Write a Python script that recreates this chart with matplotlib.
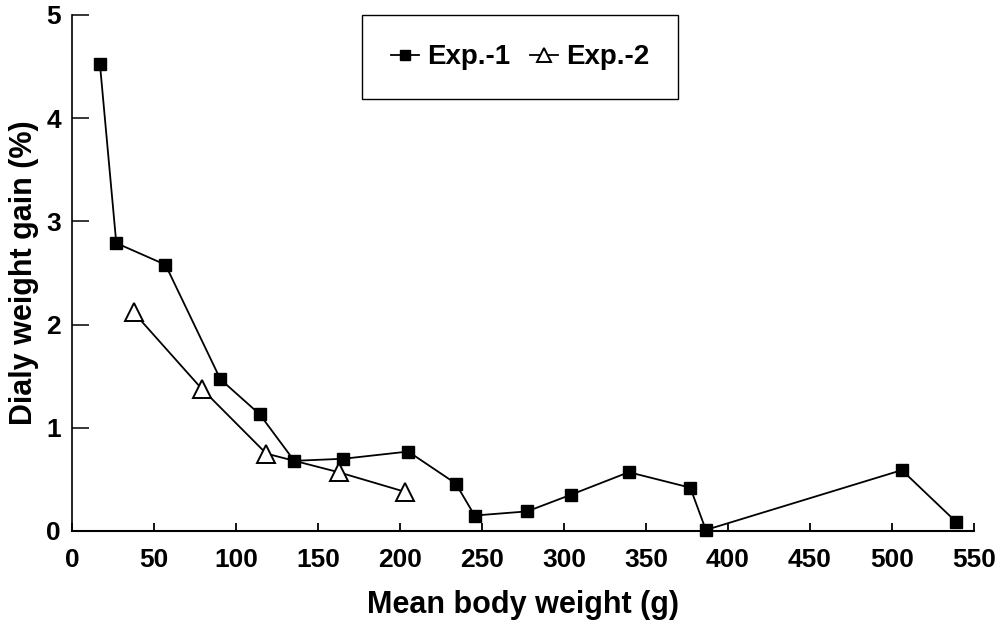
import numpy as np
import matplotlib
matplotlib.use("Agg")
import matplotlib.pyplot as plt

plt.rcParams['font.family'] = ['Liberation Sans', 'DejaVu Sans']

# Exp.-1 (filled squares)
exp1_x = [17, 27, 57, 90.5, 114.5, 135.5, 165.5, 205, 234, 245.5, 277.5, 304, 339.5, 377, 386.5, 506, 539]
exp1_y = [4.53, 2.79, 2.58, 1.47, 1.13, 0.68, 0.70, 0.77, 0.46, 0.15, 0.19, 0.35, 0.57, 0.42, 0.01, 0.59, 0.09]

# Exp.-2 (open triangles)
exp2_x = [37.5, 79, 118.5, 162.5, 203]
exp2_y = [2.12, 1.38, 0.75, 0.57, 0.38]

xticks = np.arange(0, 551, 50)
yticks = np.arange(0, 6, 1)

fig = plt.figure(figsize=(10.03, 6.31), dpi=100)
ax = fig.add_axes([72/1003, 1-531/631, 902/1003, 516/631])

ax.plot(exp1_x, exp1_y, color='black', lw=1.3, marker='s', ms=9,
        mfc='black', mec='black', label='Exp.-1', clip_on=False, zorder=3)
ax.plot(exp2_x, exp2_y, color='black', lw=1.3, marker='^', ms=13,
        mfc='white', mec='black', mew=1.4, label='Exp.-2', clip_on=False, zorder=4)

ax.set_xlim(0, 550)
ax.set_ylim(0, 5)
ax.set_xticks(xticks)
ax.set_yticks(yticks)
ax.spines['top'].set_visible(False)
ax.spines['right'].set_visible(False)
ax.spines['left'].set_linewidth(1.2)
ax.spines['bottom'].set_linewidth(1.5)
ax.tick_params(axis='y', direction='in', length=12, width=1.1, pad=8, labelsize=19)
ax.tick_params(axis='x', direction='in', length=6, width=1.3, pad=12, labelsize=19)
for lab in ax.get_xticklabels() + ax.get_yticklabels():
    lab.set_fontweight('bold')

ax.set_xlabel('Mean body weight (g)', fontsize=22, fontweight='bold', labelpad=13)
ax.set_ylabel('Dialy weight gain (%)', fontsize=22, fontweight='bold', labelpad=5)

leg = ax.legend(loc='center', bbox_to_anchor=(0.497, 0.918), ncol=2,
                prop={'size': 20, 'weight': 'bold'}, fancybox=False,
                edgecolor='black', framealpha=1, handlelength=1.0,
                columnspacing=0.7, handletextpad=0.3, borderpad=1.05,
                markerscale=0.8, borderaxespad=0)
leg.get_frame().set_linewidth(1.0)

fig.savefig('out.png', dpi=100)
